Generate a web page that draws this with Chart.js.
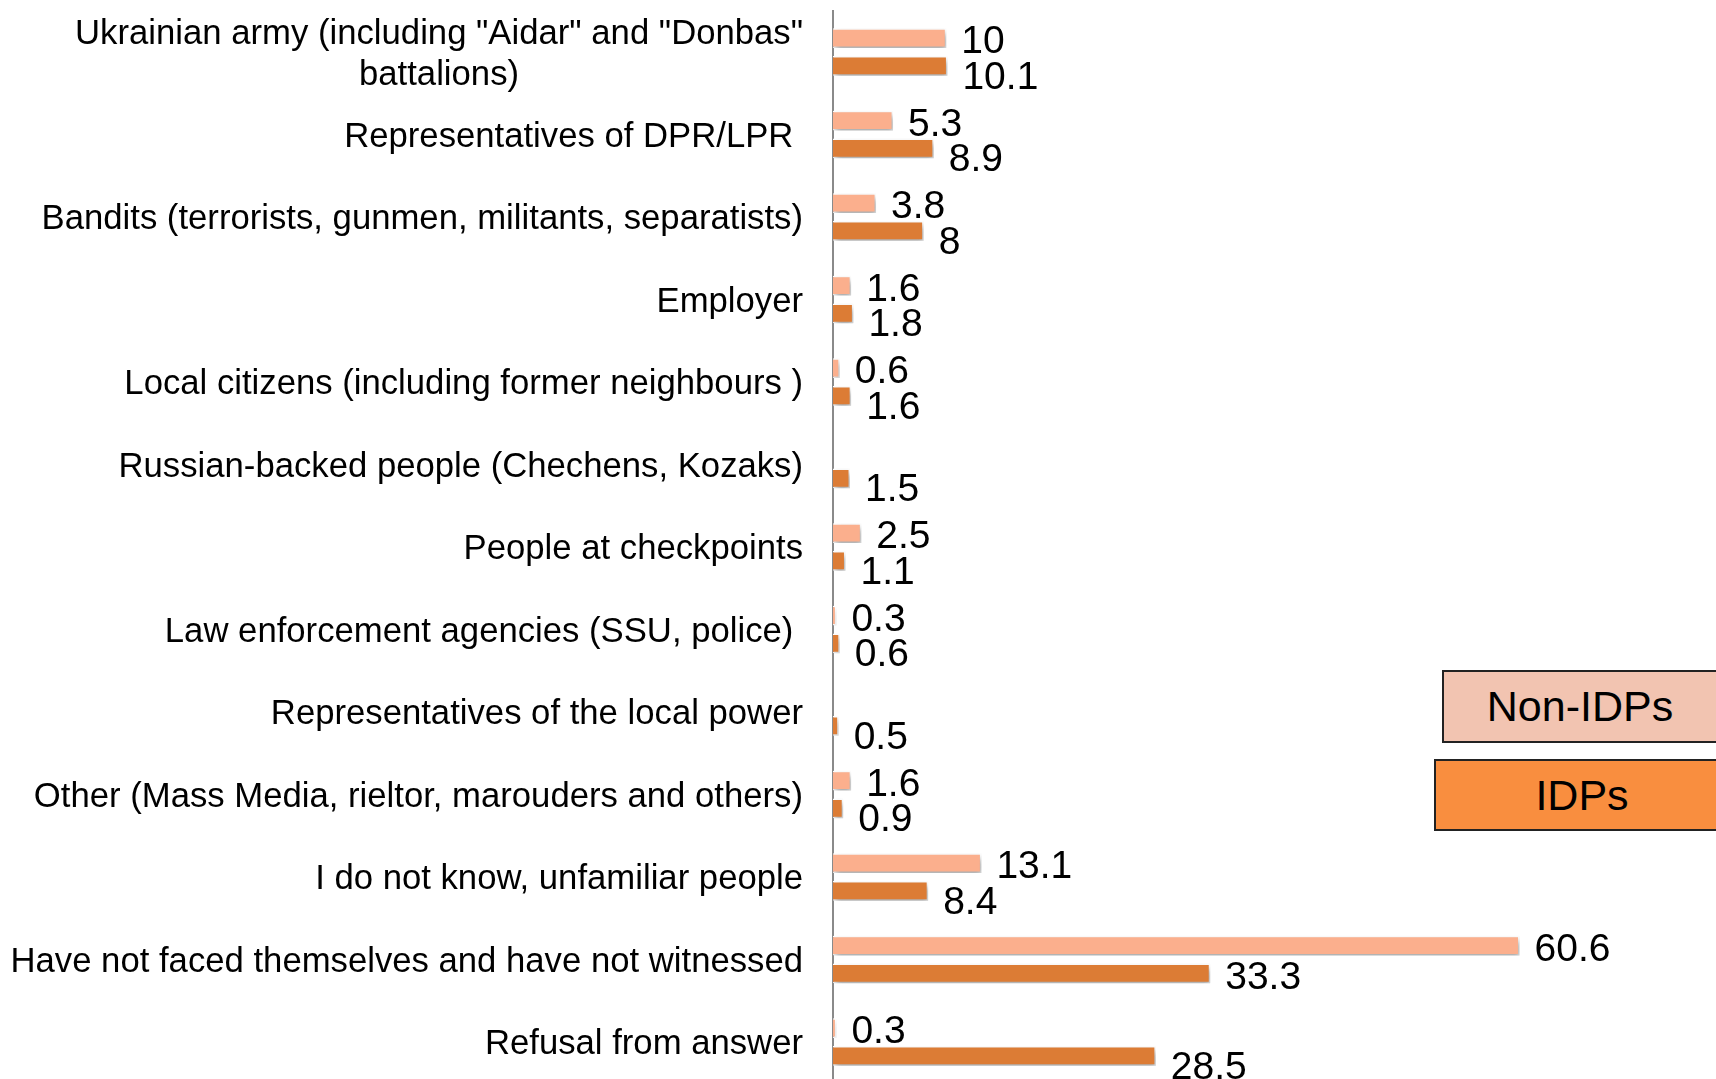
<!DOCTYPE html>
<html>
<head>
<meta charset="utf-8">
<script src="https://cdn.jsdelivr.net/npm/chart.js@4.4.1/dist/chart.umd.min.js"></script>
<style>
  html, body { margin: 0; padding: 0; background: #fff; overflow: hidden; }
  #wrap { position: relative; width: 1716px; height: 1079px; overflow: hidden; }
  #c { position: absolute; left: 0; top: 0; }
  .leg { position: absolute; box-sizing: border-box; border: 2px solid #222;
         font: 43px "Liberation Sans", Arial, sans-serif; color: #000;
         display: flex; align-items: center; justify-content: center; }
</style>
</head>
<body>
<div id="wrap">
  <canvas id="c" width="1716" height="1100" style="width:1716px;height:1100px"></canvas>
  <div class="leg" id="leg0" style="left:1442px;top:670px;width:276px;height:73px;background:#F2C4B1;"></div>
  <div class="leg" id="leg1" style="left:1434px;top:759px;width:296px;height:72px;background:#F98E3F;"></div>
</div>
<script>
const categories = [
  ['Ukrainian army (including "Aidar" and "Donbas"', 'battalions)'],
  'Representatives of DPR/LPR ',
  'Bandits (terrorists, gunmen, militants, separatists)',
  'Employer',
  'Local citizens (including former neighbours )',
  'Russian-backed people (Chechens, Kozaks)',
  'People at checkpoints',
  'Law enforcement agencies (SSU, police) ',
  'Representatives of the local power',
  'Other (Mass Media, rieltor, marouders and others)',
  'I do not know, unfamiliar people',
  'Have not faced themselves and have not witnessed',
  'Refusal from answer'
];
const seriesNames = ['Non-IDPs', 'IDPs'];
const nonIdpValues = [10, 5.3, 3.8, 1.6, 0.6, null, 2.5, 0.3, null, 1.6, 13.1, 60.6, 0.3];
const idpValues = [10.1, 8.9, 8, 1.8, 1.6, 1.5, 1.1, 0.6, 0.5, 0.9, 8.4, 33.3, 28.5];

document.getElementById('leg0').textContent = seriesNames[0];
document.getElementById('leg1').textContent = seriesNames[1];

const FONT = '"Liberation Sans", Arial, sans-serif';
const VAL_SIZE = 39;
const CAT_SIZE = 34.7;
const VAL_GAP = 15;

const shadowPlugin = {
  id: 'barShadow',
  beforeDatasetsDraw(chart) {
    const ctx = chart.ctx;
    ctx.save();
    ctx.shadowColor = 'rgba(0,0,0,0.35)';
    ctx.shadowBlur = 6;
    ctx.shadowOffsetX = 2;
    ctx.shadowOffsetY = 4;
  },
  afterDatasetsDraw(chart) { chart.ctx.restore(); }
};

const labelPlugin = {
  id: 'valueLabels',
  afterDatasetsDraw(chart) {
    const ctx = chart.ctx;
    const m0 = chart.getDatasetMeta(0), m1 = chart.getDatasetMeta(1);
    const d0 = chart.data.datasets[0].data, d1 = chart.data.datasets[1].data;
    ctx.save();
    ctx.font = VAL_SIZE + 'px ' + FONT;
    ctx.fillStyle = '#000';
    ctx.textAlign = 'left';
    ctx.textBaseline = 'alphabetic';
    const capHalf = 0.358 * VAL_SIZE;
    for (let i = 0; i < categories.length; i++) {
      if (d0[i] != null) {
        const el = m0.data[i];
        ctx.fillText(String(d0[i]), el.x + VAL_GAP, el.y + 1 + capHalf);
      }
      if (d1[i] != null) {
        const el = m1.data[i];
        const t = String(d1[i]);
        const right = el.x + VAL_GAP + ctx.measureText(t).width;
        const otherEnd = d0[i] != null ? m0.data[i].x : 0;
        const off = otherEnd > right ? 1.5 : 9;
        ctx.fillText(t, el.x + VAL_GAP, el.y + off + capHalf);
      }
    }
    ctx.restore();
  }
};

const catLabelPlugin = {
  id: 'catLabels',
  afterDraw(chart) {
    const ctx = chart.ctx;
    const ys = chart.scales.y;
    ctx.save();
    ctx.font = CAT_SIZE + 'px ' + FONT;
    ctx.fillStyle = '#000';
    ctx.textBaseline = 'alphabetic';
    const rightX = 803;
    const capHalf = 0.358 * CAT_SIZE;
    const lh = 40.5;
    categories.forEach((c, i) => {
      const y = ys.getPixelForValue(i);
      if (Array.isArray(c)) {
        const w = Math.max(...c.map(s => ctx.measureText(s).width));
        const cx = rightX - w / 2;
        ctx.textAlign = 'center';
        c.forEach((s, k) => {
          const ly = y + (k - (c.length - 1) / 2) * lh;
          ctx.fillText(s, cx, ly + capHalf);
        });
      } else {
        ctx.textAlign = 'right';
        ctx.fillText(c, rightX, y + capHalf);
      }
    });
    ctx.restore();
  }
};

new Chart(document.getElementById('c'), {
  type: 'bar',
  data: {
    labels: categories.map(c => Array.isArray(c) ? c.join(' ') : c),
    datasets: [
      { label: seriesNames[0], data: nonIdpValues, backgroundColor: '#FBAF8D',
        borderColor: '#ffffff', borderWidth: 1.5,
        categoryPercentage: 0.672, barPercentage: 0.72 },
      { label: seriesNames[1], data: idpValues, backgroundColor: '#DC7C35',
        borderColor: '#ffffff', borderWidth: 1.5,
        categoryPercentage: 0.672, barPercentage: 0.72 }
    ]
  },
  options: {
    indexAxis: 'y',
    responsive: false,
    animation: false,
    layout: { padding: { left: 0, right: 90, top: 10.75, bottom: 16.75 } },
    scales: {
      x: { display: false, min: 0, max: 70 },
      y: {
        grid: { display: false },
        border: { display: true, color: '#8a8a8a', width: 2 },
        ticks: { display: false },
        afterFit(s) { s.width = 833; }
      }
    },
    plugins: { legend: { display: false }, tooltip: { enabled: false } }
  },
  plugins: [shadowPlugin, labelPlugin, catLabelPlugin]
});
</script>
</body>
</html>
